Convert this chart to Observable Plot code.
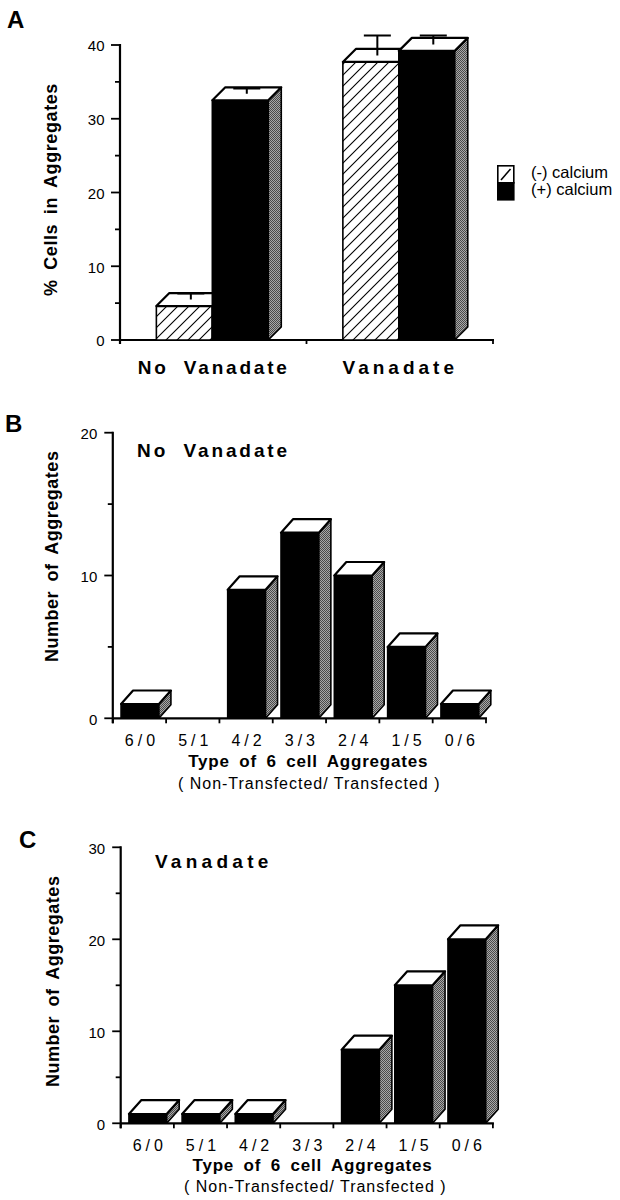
<!DOCTYPE html>
<html>
<head>
<meta charset="utf-8">
<script src="https://cdn.jsdelivr.net/npm/d3@7"></script>
<script src="https://cdn.jsdelivr.net/npm/@observablehq/plot@0.6"></script>
<style>
  html, body { margin: 0; padding: 0; background: #fff; }
  #page { position: relative; width: 620px; height: 1200px; overflow: hidden;
          font-family: "Liberation Sans", Arial, Helvetica, sans-serif; }
  #page > svg { position: absolute; left: 0; }
</style>
</head>
<body>
<div id="page"></div>
<script>
// ---------------- data ----------------
const groupsA = ["No Vanadate", "Vanadate"];
const seriesA = ["(-) calcium", "(+) calcium"];
const minusCalcium = [4.6, 37.7];
const plusCalcium = [32.5, 39.2];
const minusCalciumErr = [1.7, 3.6];
const plusCalciumErr = [1.6, 2.1];
const yTicksA = [0, 10, 20, 30, 40];
const yMinorA = [5, 15, 25, 35];

const aggregateTypes = ["6/0", "5/1", "4/2", "3/3", "2/4", "1/5", "0/6"];
const noVanadateCounts = [1, 0, 9, 13, 10, 5, 1];
const vanadateCounts = [1, 1, 1, 0, 8, 15, 20];
const yTicksB = [0, 10, 20];
const yMinorB = [5, 15];
const yTicksC = [0, 10, 20, 30];
const yMinorC = [5, 15, 25];

const titleB = "No Vanadate";
const titleC = "Vanadate";
const yLabelA = "% Cells in Aggregates";
const yLabelBC = "Number of Aggregates";
const xTitleBC = "Type of 6 cell Aggregates";
const xSubBC = "( Non-Transfected/ Transfected )";

// ---------------- tables ----------------
const tableA = groupsA.flatMap((g, i) => [
  {cat: g, series: seriesA[0], value: minusCalcium[i], err: minusCalciumErr[i]},
  {cat: g, series: seriesA[1], value: plusCalcium[i], err: plusCalciumErr[i]}
]);
const tableB = aggregateTypes.map((t, i) => ({cat: t, series: "all", value: noVanadateCounts[i]}));
const tableC = aggregateTypes.map((t, i) => ({cat: t, series: "all", value: vanadateCounts[i]}));

const FONT = '"Liberation Sans", Arial, Helvetica, sans-serif';

// ---------------- custom marks (use Plot's scales) ----------------
function patterns(g, id) {
  const defs = g.append("defs");
  const h = defs.append("pattern").attr("id", "hatch" + id)
    .attr("patternUnits", "userSpaceOnUse").attr("width", 11).attr("height", 11);
  h.append("rect").attr("width", 11).attr("height", 11).attr("fill", "#fff").attr("stroke", "none");
  h.append("path").attr("d", "M-1,12L12,-1M-6,6L6,-6M5,17L17,5")
    .attr("stroke", "#000").attr("stroke-width", 1.1).attr("fill", "none");
  const s = defs.append("pattern").attr("id", "stip" + id)
    .attr("patternUnits", "userSpaceOnUse").attr("width", 2).attr("height", 2);
  s.append("rect").attr("width", 2).attr("height", 2).attr("fill", "#a8a8a8").attr("stroke", "none");
  s.append("rect").attr("width", 1).attr("height", 1).attr("fill", "#4a4a4a").attr("stroke", "none");
  s.append("rect").attr("x", 1).attr("y", 1).attr("width", 1).attr("height", 1).attr("fill", "#4a4a4a").attr("stroke", "none");
}

function bars3d(data, {id, layout, fill, depthX, depthY, capHalf = 13.5}) {
  return (index, scales) => {
    const {x, y} = scales;
    const bw = x.bandwidth();
    const g = d3.create("svg:g").attr("stroke", "#000").attr("stroke-linejoin", "round");
    patterns(g, id);
    const y0 = y(0);
    const geo = [];
    for (const d of data) {
      if (!(d.value > 0)) continue;
      const [f0, f1] = layout(d);
      const xl = x(d.cat) + f0 * bw, xr = x(d.cat) + f1 * bw, yt = y(d.value);
      geo.push({d, xl, xr, yt});
      g.append("rect").attr("x", xl).attr("y", yt).attr("width", xr - xl).attr("height", y0 - yt)
        .attr("fill", fill(d, id)).attr("stroke-width", 1.6);
      g.append("path")
        .attr("d", `M${xr},${y0}L${xr + depthX},${y0 - depthY}L${xr + depthX},${yt - depthY}L${xr},${yt}Z`)
        .attr("fill", `url(#stip${id})`).attr("stroke-width", 1.6);
      g.append("path")
        .attr("d", `M${xl},${yt}L${xl + depthX},${yt - depthY}L${xr + depthX},${yt - depthY}L${xr},${yt}Z`)
        .attr("fill", "#fff").attr("stroke-width", 2.2);
    }
    for (const {d, xl, xr, yt} of geo) {
      if (d.err == null) continue;
      const cx = (xl + xr) / 2 + depthX / 2;
      const ye = y(d.value + d.err);
      g.append("path")
        .attr("d", `M${cx},${yt - depthY / 2}L${cx},${ye}M${cx - capHalf},${ye}L${cx + capHalf},${ye}`)
        .attr("fill", "none").attr("stroke-width", 2);
    }
    return g.node();
  };
}

function axes({major, minor, majorLen, minorLen, tickDown}) {
  return (index, scales) => {
    const {x, y} = scales;
    const [L, R] = x.range();
    const bw = x.bandwidth();
    const dom = x.domain();
    const g = d3.create("svg:g").attr("stroke", "#000").attr("fill", "none");
    const y0 = y(0), yMax = y(d3.max(major));
    g.append("line").attr("x1", L).attr("x2", R + 1).attr("y1", y0).attr("y2", y0).attr("stroke-width", 2.2);
    g.append("line").attr("x1", L).attr("x2", L).attr("y1", y0 + tickDown).attr("y2", yMax - 1).attr("stroke-width", 2.2);
    for (const t of major)
      g.append("line").attr("x1", L - majorLen).attr("x2", L).attr("y1", y(t)).attr("y2", y(t)).attr("stroke-width", 1.8);
    for (const t of minor)
      g.append("line").attr("x1", L - minorLen).attr("x2", L).attr("y1", y(t)).attr("y2", y(t)).attr("stroke-width", 1.8);
    const edges = dom.map(d => x(d)).concat([x(dom[dom.length - 1]) + bw]);
    for (const e of edges)
      g.append("line").attr("x1", e).attr("x2", e).attr("y1", y0).attr("y2", y0 + tickDown).attr("stroke-width", 1.8);
    return g.node();
  };
}

function applySpacing(svg, rules) {
  for (const t of svg.querySelectorAll("text")) {
    const r = rules[t.textContent];
    if (r) { t.style.letterSpacing = r[0] + "px"; t.style.wordSpacing = r[1] + "px"; }
  }
}

const page = document.getElementById("page");
const baseStyle = {fontFamily: FONT, background: "none", overflow: "visible", color: "#000"};

// ---------------- Panel A ----------------
const plotA = Plot.plot({
  width: 620, height: 390,
  marginLeft: 120, marginRight: 127, marginTop: 45, marginBottom: 50,
  x: {type: "band", domain: groupsA, padding: 0, round: false, axis: null},
  y: {domain: [0, 40], axis: null},
  style: baseStyle,
  marks: [
    axes({major: yTicksA, minor: yMinorA, majorLen: 9, minorLen: 5, tickDown: 4}),
    bars3d(tableA, {
      id: "A", depthX: 13, depthY: 13,
      layout: d => d.series === seriesA[0] ? [0.195, 0.495] : [0.495, 0.795],
      fill: (d, id) => d.series === seriesA[0] ? `url(#hatch${id})` : "#000"
    }),
    Plot.text(yTicksA, {y: d => d, text: d => String(d), frameAnchor: "left", dx: -16, dy: 1, textAnchor: "end", fontSize: 15}),
    Plot.text(groupsA, {x: d => d, frameAnchor: "bottom", dy: 33, lineAnchor: "bottom", textAnchor: "middle", fontSize: 19, fontWeight: "bold"}),
    Plot.text([yLabelA], {frameAnchor: "left", dx: -64, dy: -3.5, rotate: -90, lineAnchor: "bottom", textAnchor: "middle", fontSize: 18, fontWeight: "bold"})
  ]
});
applySpacing(plotA, {"No Vanadate": [2.8, 7], "Vanadate": [4, 0], [yLabelA]: [0.6, 4]});
plotA.style.top = "0px";
page.appendChild(plotA);

// ---------------- Panels B and C ----------------
function countPlot(table, {ticks, minorTicks, ymax, title, height, mL, mR, mT, mB, id, depthX, depthY,
                           titleDx, titleDy, yLabDx, yLabDy, catDy, xtDx, xtDy, xsDx, xsDy}) {
  return Plot.plot({
    width: 620, height,
    marginLeft: mL, marginRight: mR, marginTop: mT, marginBottom: mB,
    x: {type: "band", domain: aggregateTypes, padding: 0, round: false, axis: null},
    y: {domain: [0, ymax], axis: null},
    style: baseStyle,
    marks: [
      axes({major: ticks, minor: minorTicks, majorLen: 8.5, minorLen: 5, tickDown: 5}),
      bars3d(table, {id, depthX, depthY, layout: () => [0.155, 0.865], fill: () => "#000"}),
      Plot.text(ticks, {y: d => d, text: d => String(d), frameAnchor: "left", dx: -16, dy: 1, textAnchor: "end", fontSize: 15}),
      Plot.text(aggregateTypes, {x: d => d, frameAnchor: "bottom", dy: catDy, dx: 2, lineAnchor: "bottom", textAnchor: "middle", fontSize: 16}),
      Plot.text([title], {frameAnchor: "top-left", dx: titleDx, dy: titleDy, textAnchor: "start", lineAnchor: "bottom", fontSize: 19, fontWeight: "bold"}),
      Plot.text([xTitleBC], {frameAnchor: "bottom", dx: xtDx, dy: xtDy, lineAnchor: "bottom", textAnchor: "middle", fontSize: 17, fontWeight: "bold"}),
      Plot.text([xSubBC], {frameAnchor: "bottom", dx: xsDx, dy: xsDy, lineAnchor: "bottom", textAnchor: "middle", fontSize: 16}),
      Plot.text([yLabelBC], {frameAnchor: "left", dx: yLabDx, dy: yLabDy, rotate: -90, lineAnchor: "bottom", textAnchor: "middle", fontSize: 18, fontWeight: "bold"})
    ]
  });
}

const spacingBC = {[titleB]: [2.9, 7], [titleC]: [4.3, 0], [yLabelBC]: [0.5, 4], [xTitleBC]: [0.8, 4], [xSubBC]: [1, 0]};
for (const t of aggregateTypes) spacingBC[t] = [4, 0];

const plotB = countPlot(tableB, {
  ticks: yTicksB, minorTicks: yMinorB, ymax: 20, title: titleB, height: 402,
  mL: 112.8, mR: 134, mT: 42.7, mB: 73.7, id: "B", depthX: 12, depthY: 13.5,
  titleDx: 23.8, titleDy: 24, yLabDx: -55.5, yLabDy: -19.7,
  catDy: 27, xtDx: 8.3, xtDy: 48.4, xsDx: 9.3, xsDy: 69.7
});
applySpacing(plotB, spacingBC);
plotB.style.top = "390px";
page.appendChild(plotB);

const plotC = countPlot(tableC, {
  ticks: yTicksC, minorTicks: yMinorC, ymax: 30, title: titleC, height: 410,
  mL: 120.7, mR: 127.1, mT: 57.3, mB: 76.7, id: "C", depthX: 12.5, depthY: 14,
  titleDx: 33.7, titleDy: 20, yLabDx: -61.7, yLabDy: -4.5,
  catDy: 27.4, xtDx: 5.2, xtDy: 46.7, xsDx: 8, xsDy: 68.4
});
applySpacing(plotC, spacingBC);
plotC.style.top = "790px";
page.appendChild(plotC);

// ---------------- panel letters & legend ----------------
const over = d3.select(page).append("svg")
  .attr("width", 620).attr("height", 1200)
  .style("top", "0px").style("pointer-events", "none")
  .attr("font-family", FONT);
const letters = [["A", 7, 28], ["B", 5, 432], ["C", 19, 848]];
over.selectAll("text.letter").data(letters).join("text").attr("class", "letter")
  .attr("x", d => d[1]).attr("y", d => d[2]).attr("font-size", 24).attr("font-weight", "bold").text(d => d[0]);
const lg = over.append("g").attr("transform", "translate(497,165)");
lg.append("rect").attr("x", 0.8).attr("y", 0.8).attr("width", 16).attr("height", 17).attr("fill", "#fff").attr("stroke", "#000").attr("stroke-width", 1.6);
lg.append("line").attr("x1", 4).attr("y1", 15).attr("x2", 13.5).attr("y2", 4).attr("stroke", "#000").attr("stroke-width", 1.6);
lg.append("rect").attr("x", 0.8).attr("y", 17.8).attr("width", 16).attr("height", 17).attr("fill", "#000").attr("stroke", "#000").attr("stroke-width", 1.6);
lg.selectAll("text").data(seriesA).join("text")
  .attr("x", 34).attr("y", (d, i) => i === 0 ? 13 : 29.5)
  .attr("font-size", 16.5).text(d => d);
</script>
</body>
</html>
